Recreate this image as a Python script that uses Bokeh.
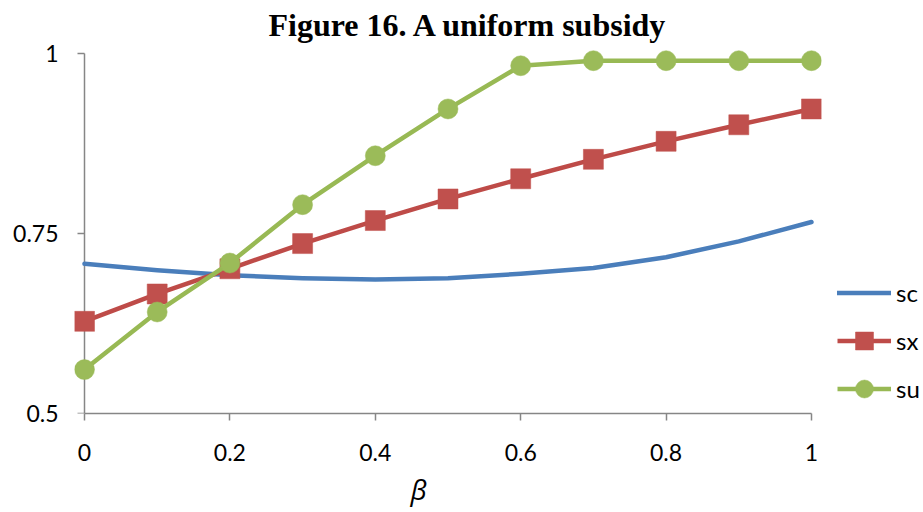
from bokeh.plotting import figure
from bokeh.models import Range1d, FixedTicker, Legend, LegendItem, Title
from bokeh.embed import file_html
from bokeh.resources import INLINE

# ---- data ----
beta = [0.0, 0.1, 0.2, 0.3, 0.4, 0.5, 0.6, 0.7, 0.8, 0.9, 1.0]
sc = [0.708, 0.699, 0.692, 0.688, 0.686, 0.688, 0.694, 0.702, 0.717, 0.739, 0.766]
sx = [0.628, 0.666, 0.701, 0.736, 0.768, 0.798, 0.826, 0.853, 0.878, 0.901, 0.923]
su = [0.561, 0.641, 0.709, 0.790, 0.858, 0.923, 0.983, 0.990, 0.990, 0.990, 0.990]
x_ticks = [0, 0.2, 0.4, 0.6, 0.8, 1]
x_tick_labels = ["0", "0.2", "0.4", "0.6", "0.8", "1"]
y_ticks = [0.5, 0.75, 1]
y_tick_labels = ["0.5", "0.75", "1"]
title_text = "Figure 16. A uniform subsidy"
x_title = "\u03b2"
series_names = ["sc", "sx", "su"]

# ---- layout constants ----
PX_X = 727.0   # pixels per x unit
PX_Y = 720.0   # pixels per y unit
FW, FH = 747, 368
pad_x = 10 / PX_X
AXIS_COLOR = "#868686"
FONT = "Lato"

p = figure(frame_width=FW, frame_height=FH,
           min_border_left=74, min_border_right=94, min_border_top=45, min_border_bottom=97,
           x_range=Range1d(-pad_x, 1 + pad_x), y_range=Range1d(0.5, 0.5 + FH / PX_Y),
           output_backend="svg", toolbar_location=None)
p.outline_line_color = None
p.background_fill_color = "white"
p.border_fill_color = "white"
p.xgrid.visible = False
p.ygrid.visible = False

# title
p.title.text = title_text
p.title.text_font = "Liberation Serif"
p.title.text_font_style = "bold"
p.title.text_font_size = "32px"
p.title.text_color = "black"
p.title.align = "left"
p.title.offset = 194
p.title.standoff = 6

# x axis
xa = p.xaxis[0]
xa.ticker = FixedTicker(ticks=x_ticks)
xa.major_label_overrides = {float(t): s for t, s in zip(x_ticks, x_tick_labels)}
xa.bounds = (0, 1)
xa.axis_line_color = AXIS_COLOR
xa.axis_line_width = 1.5
xa.major_tick_line_color = AXIS_COLOR
xa.major_tick_line_width = 1.5
xa.major_tick_out = 7
xa.major_tick_in = 0
xa.minor_tick_line_color = None
xa.major_label_text_font = FONT
xa.major_label_text_font_size = "23px"
xa.major_label_text_color = "black"
xa.major_label_standoff = 23

# y axis (labels only, line and ticks drawn at x=0)
ya = p.yaxis[0]
ya.ticker = FixedTicker(ticks=y_ticks)
ya.major_label_overrides = {float(t): s for t, s in zip(y_ticks, y_tick_labels)}
ya.axis_line_color = None
ya.major_tick_line_color = None
ya.minor_tick_line_color = None
ya.major_tick_out = 0
ya.major_tick_in = 0
ya.major_label_text_font = FONT
ya.major_label_text_font_size = "23px"
ya.major_label_text_color = "black"
ya.major_label_standoff = 16

tick_len = 7 / PX_X
p.segment(x0=[0], y0=[y_ticks[0]], x1=[0], y1=[y_ticks[-1]], line_color=AXIS_COLOR, line_width=1.5)
p.segment(x0=[-tick_len] * len(y_ticks), y0=y_ticks, x1=[0] * len(y_ticks), y1=y_ticks,
          line_color=AXIS_COLOR, line_width=1.5)

# series
r_sc = p.line(beta, sc, line_color="#4A7EBB", line_width=4.5, line_join="round", line_cap="round")
r_sx = p.line(beta, sx, line_color="#BE4B48", line_width=4.5, line_join="round")
m_sx = p.scatter(beta, sx, marker="square", size=20, fill_color="#C0504D", line_color="#C0504D", line_width=0.5)
r_su = p.line(beta, su, line_color="#98B954", line_width=4.5, line_join="round")
m_su = p.scatter(beta, su, marker="circle", size=20, fill_color="#9BBB59", line_color="#9BBB59", line_width=0.5)

legend = Legend(items=[
    LegendItem(label=series_names[0], renderers=[r_sc]),
    LegendItem(label=series_names[1], renderers=[r_sx, m_sx]),
    LegendItem(label=series_names[2], renderers=[r_su, m_su]),
], location=(16, 2))
legend.border_line_color = None
legend.background_fill_alpha = 0
legend.padding = 0
legend.margin = 0
legend.spacing = 3
legend.glyph_width = 54
legend.glyph_height = 45
legend.label_standoff = 5
legend.label_text_font = FONT
legend.label_text_font_size = "24px"
legend.label_text_color = "black"
p.add_layout(legend, "right")

# axis title (beta)
p.add_layout(Title(text=x_title, align="left", offset=336, text_font="Open Sans",
                   text_font_style="italic", text_font_size="28px", text_color="black",
                   standoff=8), "below")

open("out.html", "w").write(file_html(p, INLINE))
